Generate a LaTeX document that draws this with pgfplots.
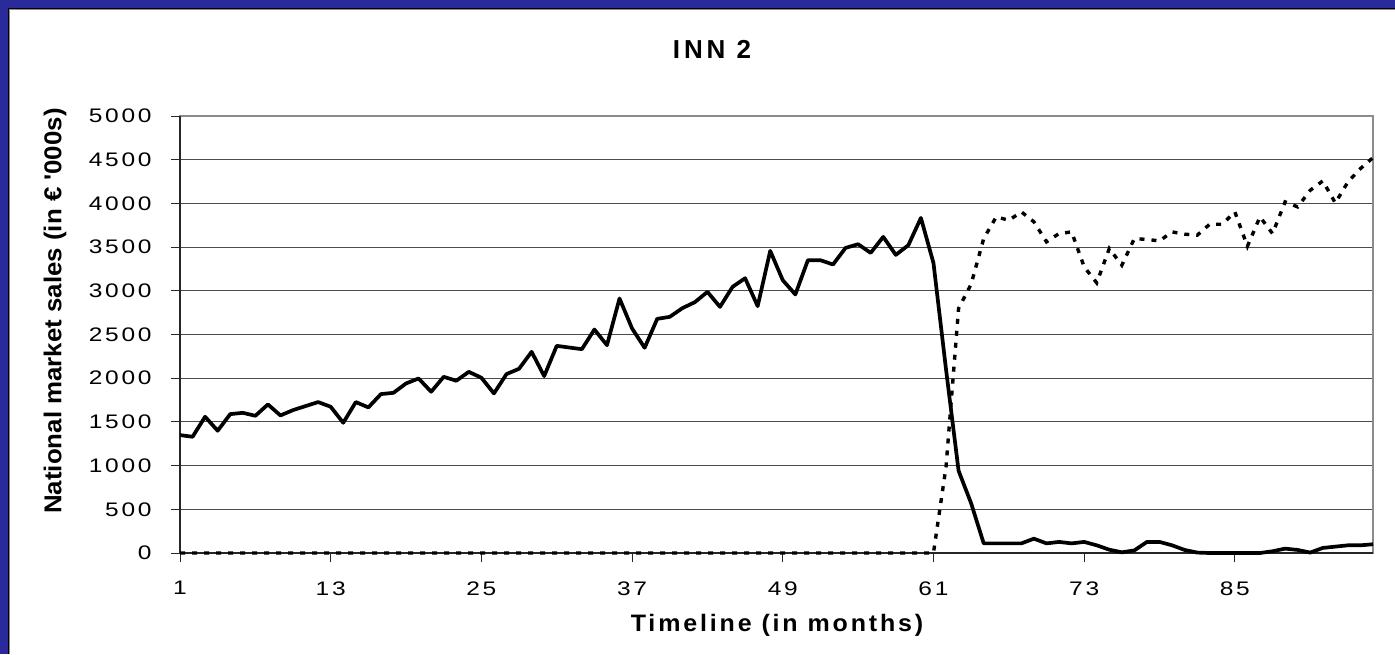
\documentclass[border=0pt]{standalone}
\usepackage{pgfplots}
\pgfplotsset{compat=1.18}
\usepackage{pgfplotstable}
\usepackage{fontspec}
\setmainfont{Liberation Sans}
\newfontfamily\tickfont{Liberation Sans}[FakeStretch=1.25, LetterSpace=14]
\newfontfamily\xlabfont{Liberation Sans}[FakeStretch=1.05, LetterSpace=12]
\newfontfamily\ylabfont{Liberation Sans}[FakeStretch=1.06]
\newfontfamily\titlefont{Liberation Sans}[LetterSpace=15]
\definecolor{frameblue}{RGB}{42,42,155}

\pgfplotstableread{
m v
1 1349
2 1330
3 1559
4 1399
5 1589
6 1604
7 1570
8 1700
9 1574
10 1635
11 1681
12 1727
13 1673
14 1490
15 1727
16 1666
17 1818
18 1833
19 1940
20 1997
21 1845
22 2016
23 1971
24 2073
25 2005
26 1826
27 2047
28 2108
29 2302
30 2024
31 2370
32 2351
33 2332
34 2557
35 2378
36 2912
37 2569
38 2348
39 2679
40 2702
41 2801
42 2870
43 2988
44 2816
45 3045
46 3144
47 2824
48 3457
49 3121
50 2958
51 3350
52 3350
53 3301
54 3491
55 3533
56 3434
57 3617
58 3411
59 3522
60 3834
61 3318
62 2100
63 941
64 568
65 110
66 110
67 110
68 110
69 164
70 110
71 127
72 110
73 127
74 88
75 38
76 8
77 30
78 127
79 127
80 88
81 35
82 5
83 0
84 0
85 0
86 0
87 0
88 20
89 50
90 35
91 5
92 58
93 73
94 88
95 88
96 100
}\solidtab

\pgfplotstableread{
m v
1 0
2 0
3 0
4 0
5 0
6 0
7 0
8 0
9 0
10 0
11 0
12 0
13 0
14 0
15 0
16 0
17 0
18 0
19 0
20 0
21 0
22 0
23 0
24 0
25 0
26 0
27 0
28 0
29 0
30 0
31 0
32 0
33 0
34 0
35 0
36 0
37 0
38 0
39 0
40 0
41 0
42 0
43 0
44 0
45 0
46 0
47 0
48 0
49 0
50 0
51 0
52 0
53 0
54 0
55 0
56 0
57 0
58 0
59 0
60 0
61 0
62 987
63 2798
64 3076
65 3598
66 3846
67 3807
68 3903
69 3789
70 3560
71 3655
72 3674
73 3274
74 3091
75 3483
76 3293
77 3598
78 3587
79 3571
80 3674
81 3648
82 3636
83 3762
84 3762
85 3903
86 3510
87 3846
88 3655
89 4017
90 3960
91 4150
92 4257
93 4005
94 4245
95 4398
96 4524
}\dottab

\begin{document}
\begin{tikzpicture}
\useasboundingbox (0,0) rectangle (697.5pt,327pt);
\fill[white] (0,0) rectangle (697.5pt,327pt);
\fill[frameblue] (0,323pt) rectangle (697.5pt,327pt);
\fill[frameblue] (0,0) rectangle (4pt,327pt);
\draw[black, line width=0.6pt] (4.3pt,0) -- (4.3pt,322.7pt) -- (697.5pt,322.7pt);
\draw[black!45, line width=0.5pt] (4.85pt,0) -- (4.85pt,322.15pt) -- (697.5pt,322.15pt);

\begin{axis}[
  at={(90pt,50.5pt)}, anchor=south west,
  scale only axis, width=596.5pt, height=218.5pt,
  xmin=1, xmax=96, ymin=0, ymax=5000,
  xtick={1,13,...,85}, ytick={0,500,...,5000},
  scaled y ticks=false,
  axis line style={black!45, line width=0.6pt},
  ymajorgrids, major grid style={black!70, line width=0.55pt},
  tick style={black!85, line width=0.5pt},
  tick align=outside, major tick length=4.5pt,
  xtick pos=bottom, ytick pos=left,
  xticklabel={\tickfont\fontsize{9.8}{11}\selectfont\pgfmathprintnumber[assume math mode=true,1000 sep={}]{\tick}},
  yticklabel={\tickfont\fontsize{9.8}{11}\selectfont\pgfmathprintnumber[assume math mode=true,1000 sep={}]{\tick}},
  xticklabel style={inner sep=0pt, anchor=north, yshift=-9.5pt},
  yticklabel style={inner sep=0pt, anchor=east, xshift=-9.5pt},
  clip=false,
]
\draw[black!85, line width=0.7pt] (rel axis cs:0,1) -- (rel axis cs:0,0) -- (rel axis cs:1,0);
\addplot[black, line width=1.7pt, dash pattern=on 2.5pt off 3.5pt] table[x=m, y=v] {\dottab};
\addplot[black, line width=1.85pt, line join=round] table[x=m, y=v] {\solidtab};
\end{axis}

\node[font=\titlefont\bfseries\fontsize{13}{15}\selectfont] at (356pt,302.2pt) {INN 2};
\node[font=\ylabfont\bfseries\fontsize{12.2}{14}\selectfont, rotate=90] at (27.5pt,171.5pt) {National market sales (in € \textquotesingle 000s)};
\node[font=\xlabfont\bfseries\fontsize{11.9}{13}\selectfont] at (388.5pt,14.3pt) {Timeline (in months)};
\end{tikzpicture}
\end{document}
